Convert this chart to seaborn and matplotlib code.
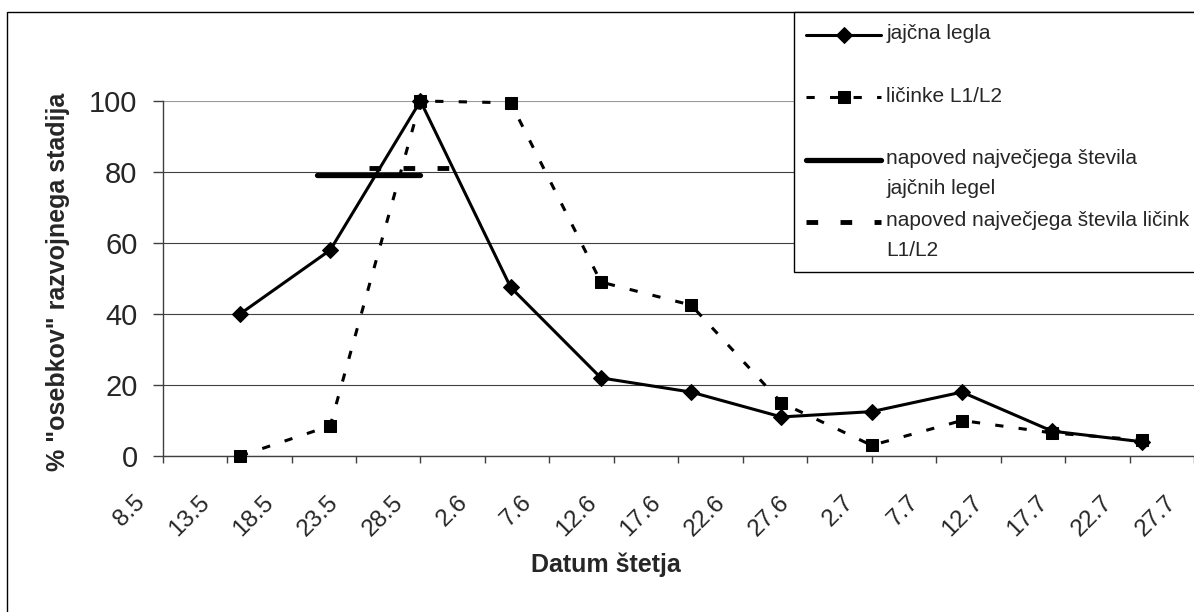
import pandas as pd
import matplotlib
matplotlib.use("Agg")
import matplotlib.pyplot as plt
import matplotlib.transforms as mtransforms
from matplotlib.patches import Rectangle
from matplotlib.lines import Line2D
from matplotlib.legend_handler import HandlerLine2D
import seaborn as sns

# sampling dates (weekly) and % of individuals in the developmental stage
dates = pd.to_datetime(["2006-05-14", "2006-05-21", "2006-05-28", "2006-06-04",
                        "2006-06-11", "2006-06-18", "2006-06-25", "2006-07-02",
                        "2006-07-09", "2006-07-16", "2006-07-23"])
egg_masses = [40, 58, 100, 47.5, 22, 18, 11, 12.5, 18, 7, 4]
larvae = [0, 8.5, 100, 99.5, 49, 42.5, 15, 3, 10, 6.5, 4.5]

# predicted windows of the maximum
pred_egg_dates = pd.to_datetime(["2006-05-20", "2006-05-28"])
pred_egg_level = [79.2, 79.2]
pred_larvae_dates = pd.to_datetime(["2006-05-24", "2006-05-31"])
pred_larvae_level = [81.2, 81.2]

tick_dates = pd.date_range("2006-05-08", "2006-07-27", freq="5D")
tick_labels = [f"{d.day}.{d.month}" for d in tick_dates]


class FirstLineHandler(HandlerLine2D):
    # put the legend sample next to the first line of a two-line label
    def create_artists(self, legend, orig_handle, xdescent, ydescent,
                       width, height, fontsize, trans):
        artists = super().create_artists(legend, orig_handle, xdescent, ydescent,
                                         width, height, fontsize, trans)
        for a in artists:
            a.set_ydata([y + 0.65 * fontsize for y in a.get_ydata()])
        return artists


sns.set_style("white")
plt.rcParams['font.family'] = ['Liberation Sans', 'DejaVu Sans']

W, H = 1194, 612
fig = plt.figure(figsize=(W / 100, H / 100), dpi=100)
ax = fig.add_axes([162.6 / W, 1 - 456 / H, 1 - 162.6 / W, 355 / H])

# outer chart frame (cut at right and bottom like the source)
fig.add_artist(Rectangle((7 / W, -0.2), 1.2, 1.2 - 12 / H,
                         transform=fig.transFigure, fill=False,
                         edgecolor='black', lw=1, zorder=0))

sns.lineplot(x=dates, y=egg_masses, ax=ax, color='black', lw=2.2,
             marker='D', markersize=8.5, markeredgecolor='black',
             label='jajčna legla\n', clip_on=False, zorder=4)
sns.lineplot(x=dates, y=larvae, ax=ax, color='black', lw=2.2,
             linestyle=(0, (2.7, 5)), marker='s', markersize=8,
             markeredgecolor='black', label='ličinke L1/L2\n',
             clip_on=False, zorder=3)
sns.lineplot(x=pred_egg_dates, y=pred_egg_level, ax=ax, color='black', lw=3.8,
             solid_capstyle='round',
             label='napoved največjega števila\njajčnih legel', zorder=5)
sns.lineplot(x=pred_larvae_dates, y=pred_larvae_level, ax=ax, color='black',
             lw=3.5, linestyle=(0, (2.4, 4.6)),
             label='napoved največjega števila ličink\nL1/L2', zorder=5)

handles, labels = ax.get_legend_handles_labels()
if ax.get_legend() is not None:
    ax.get_legend().remove()

ax.set_ylim(0, 100)
ax.set_xlim(tick_dates[0], tick_dates[-1])
ax.set_yticks([0, 20, 40, 60, 80, 100])
ax.set_xticks(tick_dates)
ax.set_xticklabels(tick_labels, rotation=45, ha='right', va='center',
                   rotation_mode='anchor')
ax.tick_params(axis='x', direction='out', length=5, width=1, color='#404040',
               pad=26, labelsize=17.5, bottom=True)
ax.tick_params(axis='y', direction='out', length=7, width=1, color='#404040',
               pad=11, labelsize=21, left=True)
shift = mtransforms.ScaledTranslation(-21 / 100, 0, fig.dpi_scale_trans)
for lab in ax.get_xticklabels():
    lab.set_transform(lab.get_transform() + shift)

ax.yaxis.grid(True, color='#404040', lw=0.8)
ax.xaxis.grid(False)
ax.set_axisbelow(True)
ax.yaxis.get_gridlines()[-1].set_color('#999999')
for side in ['top', 'right']:
    ax.spines[side].set_visible(False)
for side in ['left', 'bottom']:
    ax.spines[side].set_color('#404040')
    ax.spines[side].set_linewidth(1)

ax.set_xlabel('Datum štetja', fontsize=18, fontweight='bold', va='top')
ax.xaxis.set_label_coords(0.43, -0.273)
ax.set_ylabel('% "osebkov" razvojnega stadija', fontsize=18, fontweight='bold')
ax.yaxis.set_label_coords(-0.09, 0.49)

leg = fig.legend(handles, labels, loc='upper left',
                 bbox_to_anchor=(794 / W, 1 - 12 / H), borderaxespad=0,
                 fontsize=15, frameon=True, fancybox=False, framealpha=1,
                 edgecolor='black', handlelength=3.6, handletextpad=0.25,
                 labelspacing=0.67, borderpad=0.58,
                 handler_map={Line2D: FirstLineHandler()})
leg.get_frame().set_linewidth(1)
for t in leg.get_texts():
    t.set_linespacing(1.7)

fig.savefig('out.png', dpi=100)
